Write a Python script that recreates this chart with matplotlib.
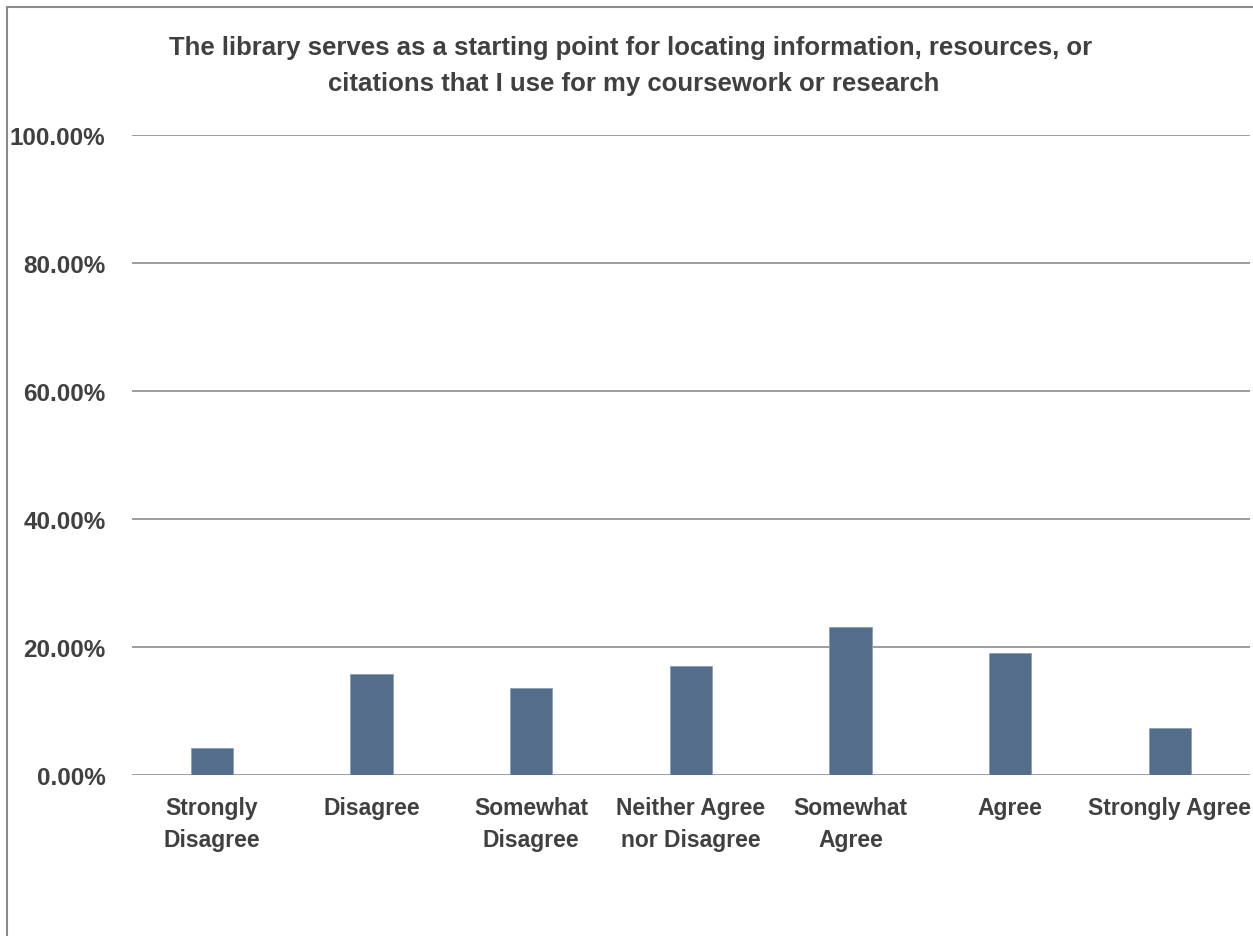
import matplotlib.pyplot as plt
from matplotlib.patches import Rectangle
from matplotlib import font_manager

categories = ['Strongly\nDisagree', 'Disagree', 'Somewhat\nDisagree',
              'Neither Agree\nnor Disagree', 'Somewhat\nAgree', 'Agree',
              'Strongly Agree']
values = [4.14, 15.7, 13.56, 17.0, 23.1, 19.06, 7.33]
yticks = [0, 20, 40, 60, 80, 100]
title = ('The library serves as a starting point for locating information, resources, or \n'
         'citations that I use for my coursework or research')

names = {f.name for f in font_manager.fontManager.ttflist}
if 'Liberation Sans Narrow' in names:
    fam, fs_x, fs_y, fs_t = 'Liberation Sans Narrow', 21, 21, 21
else:
    fam, fs_x, fs_y, fs_t = 'Liberation Sans', 16.5, 17.5, 18.5
plt.rcParams['font.family'] = [fam, 'DejaVu Sans']

txt = '#404040'
grid = '#8c8c8c'

fig = plt.figure(figsize=(12.53, 9.37), dpi=100)
ax = fig.add_axes([132 / 1253, 1 - 775.7 / 937, 1117.5 / 1253, 639.7 / 937])

x = range(len(categories))
ax.bar(x, values, width=0.265, color='#536d8a', edgecolor='#8aa0b8',
       linewidth=0.6, zorder=3)

ax.set_xlim(-0.5, len(categories) - 0.5)
ax.set_ylim(0, 100)
ax.set_yticks(yticks)
ax.set_yticklabels(['%.2f%%' % v for v in yticks])
ax.set_xticks(list(x))
ax.set_xticklabels(categories)
ax.yaxis.grid(True, color=grid, linewidth=1.2, zorder=0)
ax.set_axisbelow(True)
for s in ax.spines.values():
    s.set_visible(False)
ax.tick_params(length=0)
ax.tick_params(axis='y', pad=19)
ax.tick_params(axis='x', pad=15)
for lab in ax.get_xticklabels():
    lab.set_fontsize(fs_x)
for lab in ax.get_yticklabels():
    lab.set_fontsize(fs_y)
for lab in ax.get_xticklabels() + ax.get_yticklabels():
    lab.set_fontweight('bold')
    lab.set_color(txt)
    lab.set_linespacing(1.5)

fig.text(0.506, 1 - 66 / 937, title, ha='center', va='center', fontsize=fs_t,
         fontweight='bold', color=txt, linespacing=1.6)

frame = Rectangle((7 / 1253, -0.2), 1.5, 1.2 - 8 / 937, transform=fig.transFigure,
                  fill=False, edgecolor=grid, linewidth=1.5, clip_on=False)
fig.patches.append(frame)

fig.savefig('out.png', dpi=100)
